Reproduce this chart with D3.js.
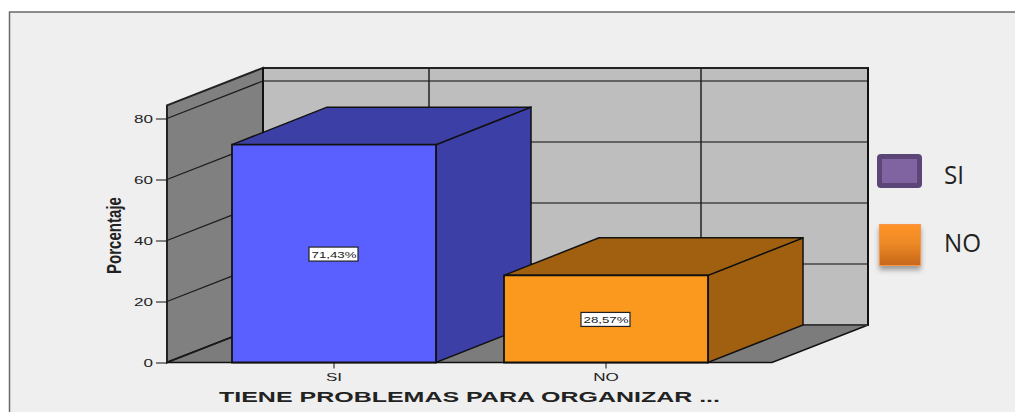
<!DOCTYPE html>
<html lang="en">
<head>
    <meta charset="UTF-8">
    <title>Tiene problemas para organizar</title>
    <script src="https://d3js.org/d3.v7.min.js"></script>
    <style>
        html, body { margin: 0; padding: 0; background: #fff; overflow: hidden; }
        svg { display: block; }
        text { font-family: "Liberation Sans", Arial, sans-serif; fill: #222; }
    </style>
</head>
<body>
<script>
    var categories = ['SI', 'NO']
    var values = [71.43, 28.57]
    var valueLabels = ['71,43%', '28,57%']
    var yTicks = [0, 20, 40, 60, 80]
    var axisTop = 84.3

    var w = 1015, h = 412
    var depthX = 96, depthY = -37.5
    var barDepthX = 95

    var frontColors = ['#5a60ff', '#fb981e']
    var darkColors = ['#3c3fa5', '#a06010']

    var svg = d3.select('body').append('svg').attr('width', w).attr('height', h)

    var yScale = d3.scaleLinear().domain([0, 80]).range([362.5, 118.5])
    var xScale = d3.scaleBand().domain(categories).range([232, 708]).paddingInner(0.25).paddingOuter(0)

    var left = 167, right = 772
    var y0 = yScale(0), yTop = yScale(axisTop)

    // widen or narrow text to look like the original export
    function stretch(sel, k) {
        sel.each(function() {
            this.setAttribute('textLength', this.getComputedTextLength() * k)
            this.setAttribute('lengthAdjust', 'spacingAndGlyphs')
        })
    }

    function poly(points, fill, stroke, sw) {
        return svg.append('polygon')
            .attr('points', points.map(function(p) { return p.join(',') }).join(' '))
            .attr('fill', fill)
            .attr('stroke', stroke)
            .attr('stroke-width', sw)
            .attr('stroke-linejoin', 'miter')
    }

    // shadow + gradient for the legend
    var defs = svg.append('defs')
    var grad = defs.append('linearGradient').attr('id', 'orangeGrad').attr('x1', 0).attr('y1', 0).attr('x2', 0).attr('y2', 1)
    grad.append('stop').attr('offset', '0%').attr('stop-color', '#ff9429')
    grad.append('stop').attr('offset', '45%').attr('stop-color', '#ee8a26')
    grad.append('stop').attr('offset', '100%').attr('stop-color', '#c6671a')
    defs.append('filter').attr('id', 'shadow').attr('x', '-30%').attr('y', '-30%').attr('width', '160%').attr('height', '170%')
        .append('feDropShadow').attr('dx', 0).attr('dy', 4).attr('stdDeviation', 2.5)
        .attr('flood-color', '#000').attr('flood-opacity', 0.35)

    // outer frame
    svg.append('rect').attr('x', 9.5).attr('y', 12).attr('width', w + 20).attr('height', h + 20)
        .attr('fill', '#efefef').attr('stroke', '#6a6a6a').attr('stroke-width', 1.5)

    // walls and floor
    poly([[left + depthX, yTop + depthY], [right + depthX, yTop + depthY],
          [right + depthX, y0 + depthY], [left + depthX, y0 + depthY]], '#bebebe', '#222', 2)
    poly([[left, yTop], [left + depthX, yTop + depthY], [left + depthX, y0 + depthY], [left, y0]], '#808080', '#222', 2)
    poly([[left, y0], [left + depthX, y0 + depthY], [right + depthX, y0 + depthY], [right, y0]], '#7c7c7c', '#111', 1.5)

    // grid lines, along the side wall then the back wall
    var grid = svg.append('g')
    grid.selectAll('.side').data(yTicks).enter().append('line')
        .attr('x1', left).attr('x2', left + depthX)
        .attr('y1', function(d) { return yScale(d) }).attr('y2', function(d) { return yScale(d) + depthY })
        .attr('stroke', '#1c1c1c').attr('stroke-width', 1.2)
    grid.selectAll('.back').data(yTicks).enter().append('line')
        .attr('x1', left + depthX).attr('x2', right + depthX)
        .attr('y1', function(d) { return yScale(d) + depthY }).attr('y2', function(d) { return yScale(d) + depthY })
        .attr('stroke', '#444').attr('stroke-width', 1.5)
    grid.selectAll('.vert').data(categories).enter().append('line')
        .attr('x1', function(d) { return xScale(d) + xScale.bandwidth() / 2 + barDepthX })
        .attr('x2', function(d) { return xScale(d) + xScale.bandwidth() / 2 + barDepthX })
        .attr('y1', yTop + depthY).attr('y2', y0 + depthY)
        .attr('stroke', '#222').attr('stroke-width', 1.5)

    // redraw wall edges over the grid ends
    svg.append('line').attr('x1', right + depthX).attr('x2', right + depthX)
        .attr('y1', yTop + depthY).attr('y2', y0 + depthY).attr('stroke', '#111').attr('stroke-width', 2)
    svg.append('line').attr('x1', left + depthX).attr('x2', left + depthX)
        .attr('y1', yTop + depthY).attr('y2', y0 + depthY).attr('stroke', '#111').attr('stroke-width', 2)

    // bars: side, top, front
    categories.forEach(function(c, i) {
        var x0 = xScale(c), x1 = x0 + xScale.bandwidth(), yv = yScale(values[i])
        poly([[x1, yv], [x1 + barDepthX, yv + depthY], [x1 + barDepthX, y0 + depthY], [x1, y0]], darkColors[i], '#111', 1.5)
        poly([[x0, yv], [x0 + barDepthX, yv + depthY], [x1 + barDepthX, yv + depthY], [x1, yv]], darkColors[i], '#111', 1.5)
        poly([[x0, yv], [x1, yv], [x1, y0], [x0, y0]], frontColors[i], '#111', 1.8)
    })

    // axes
    var yAxis = d3.axisLeft(yScale).tickValues(yTicks).tickSize(11).tickPadding(3)
    var yG = svg.append('g').attr('transform', 'translate(' + left + ',0)').call(yAxis)
    yG.select('.domain').remove()
    yG.selectAll('line').attr('stroke', '#111').attr('stroke-width', 1)
    yG.selectAll('text').attr('font-size', 11).attr('font-family', null).call(stretch, 1.55)

    var xAxis = d3.axisBottom(xScale).tickSize(6).tickPadding(5)
    var xG = svg.append('g').attr('transform', 'translate(0,' + y0 + ')').call(xAxis)
    xG.select('.domain').remove()
    xG.selectAll('line').attr('stroke', '#111').attr('stroke-width', 1)
    xG.selectAll('text').attr('font-size', 11).attr('font-family', null).call(stretch, 1.55)

    svg.append('text').attr('x', 469.5).attr('y', 402).attr('text-anchor', 'middle')
        .attr('font-size', 15.5).attr('font-weight', 'bold').attr('fill', '#111')
        .text('TIENE PROBLEMAS PARA ORGANIZAR ...')
        .attr('textLength', 501).attr('lengthAdjust', 'spacingAndGlyphs')

    svg.append('text').attr('transform', 'translate(121,235.5) rotate(-90)').attr('text-anchor', 'middle')
        .attr('font-size', 21).attr('font-weight', 'bold').attr('fill', '#111')
        .text('Porcentaje')
        .attr('textLength', 77).attr('lengthAdjust', 'spacingAndGlyphs')

    // value labels in the middle of the bars
    var boxW = 49, boxH = 14
    categories.forEach(function(c, i) {
        var cx = xScale(c) + xScale.bandwidth() / 2, cy = yScale(values[i] / 2)
        svg.append('rect').attr('x', cx - boxW / 2 - 0.5).attr('y', cy - boxH / 2 + 0.5).attr('width', boxW).attr('height', boxH)
            .attr('fill', '#fff').attr('stroke', '#222').attr('stroke-width', 1.2)
        svg.append('text').attr('x', cx).attr('y', cy + 4).attr('text-anchor', 'middle')
            .attr('font-size', 9.5).text(valueLabels[i])
            .attr('textLength', 45).attr('lengthAdjust', 'spacingAndGlyphs')
    })

    // legend
    svg.append('rect').attr('x', 879.5).attr('y', 156.5).attr('width', 40).attr('height', 29).attr('rx', 1.5)
        .attr('fill', '#8064a2').attr('stroke', '#5c4677').attr('stroke-width', 5).attr('stroke-linejoin', 'round')
    svg.append('rect').attr('x', 879.5).attr('y', 224.5).attr('width', 41).attr('height', 41)
        .attr('fill', 'url(#orangeGrad)').attr('stroke', '#f79646').attr('stroke-width', 1)
        .attr('filter', 'url(#shadow)')

    svg.selectAll('.leg').data(categories).enter().append('text')
        .attr('x', 944)
        .attr('y', function(d, i) { return i == 0 ? 184 : 252 })
        .attr('font-size', 26)
        .attr('fill', '#111')
        .style('font-family', '"Open Sans", sans-serif')
        .text(function(d) { return d })
        .call(stretch, 0.93)
</script>
</body>
</html>
